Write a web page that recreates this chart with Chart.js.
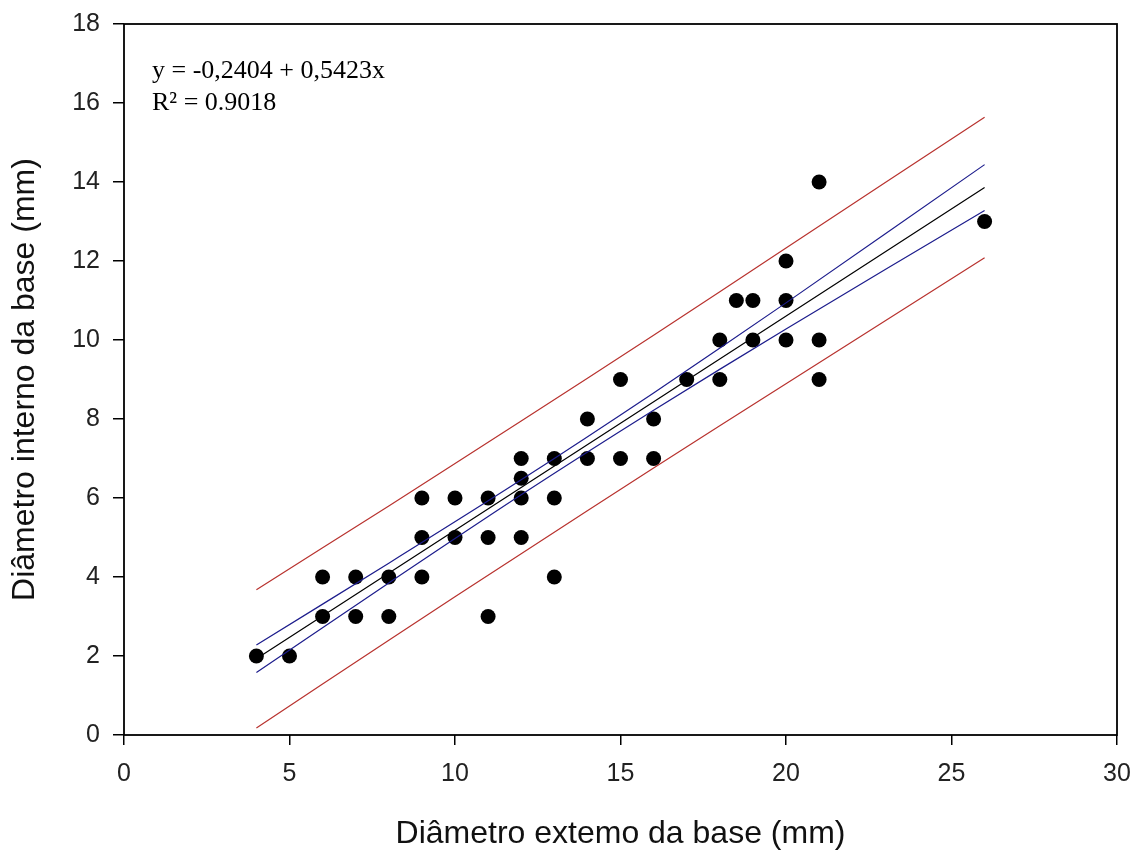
<!DOCTYPE html>
<html>
<head>
<meta charset="utf-8">
<script src="https://cdn.jsdelivr.net/npm/chart.js@4"></script>
<style>
  body { margin: 0; background: #fff; }
</style>
</head>
<body>
<canvas id="chart" width="1131" height="853"></canvas>
<script>
// observed values (diâmetro externo vs interno)
const ptX = [4, 5, 6, 6, 7, 7, 8, 8, 9, 9, 9, 10, 10, 11, 11, 11, 12, 12, 12, 12, 13, 13, 13,
  14, 14, 15, 15, 16, 16, 17, 18, 18, 18.5, 19, 19, 20, 20, 20, 21, 21, 21, 26];
const ptY = [2, 2, 4, 3, 4, 3, 4, 3, 6, 5, 4, 6, 5, 6, 5, 3, 7, 6.5, 6, 5, 7, 6, 4,
  8, 7, 9, 7, 8, 7, 9, 10, 9, 11, 11, 10, 12, 11, 10, 14, 10, 9, 13];

// regression line and bands
const lineX = [4, 26];
const regY = [1.93, 13.86];
const bandX = [4, 8, 12, 16, 20, 26];
const confHi = [2.28, 4.35, 6.46, 8.66, 10.94, 14.44];
const confLo = [1.58, 3.85, 6.08, 8.22, 10.28, 13.28];
const predHi = [3.68, 5.80, 7.95, 10.12, 12.33, 15.64];
const predLo = [0.18, 2.40, 4.59, 6.76, 8.89, 12.08];

const xTicks = [0, 5, 10, 15, 20, 25, 30];
const yTicks = [0, 2, 4, 6, 8, 10, 12, 14, 16, 18];
const eqLines = ["y = -0,2404 + 0,5423x", "R\u00B2 = 0.9018"];

function pairs(xs, ys) {
  return xs.map((x, i) => ({ x: x, y: ys[i] }));
}

function lineSet(xs, ys, color) {
  return {
    data: pairs(xs, ys),
    showLine: true,
    borderColor: color,
    borderWidth: 1.2,
    pointRadius: 0,
    fill: false,
    tension: 0.3
  };
}

const framePlugin = {
  id: "frame",
  afterDraw(chart) {
    const a = chart.chartArea;
    const c = chart.ctx;
    c.save();
    c.strokeStyle = "#000";
    c.lineWidth = 1.8;
    c.strokeRect(a.left, a.top, a.right - a.left, a.bottom - a.top);
    c.fillStyle = "#000";
    c.font = "26px 'Liberation Serif', 'Times New Roman', serif";
    c.textBaseline = "alphabetic";
    c.fillText(eqLines[0], a.left + 28, a.top + 54);
    c.fillText(eqLines[1], a.left + 28, a.top + 86);
    c.restore();
  }
};

const tickFont = { family: "'Liberation Sans', Arial, sans-serif", size: 25 };
const titleFont = { family: "'Liberation Sans', Arial, sans-serif", size: 32 };

new Chart(document.getElementById("chart"), {
  type: "scatter",
  data: {
    datasets: [
      lineSet(bandX, predHi, "#b8322e"),
      lineSet(bandX, predLo, "#b8322e"),
      lineSet(bandX, confHi, "#1c1c8c"),
      lineSet(bandX, confLo, "#1c1c8c"),
      lineSet(lineX, regY, "#000"),
      {
        data: pairs(ptX, ptY),
        pointRadius: 7.5,
        pointBackgroundColor: "#000",
        pointBorderColor: "#000",
        pointBorderWidth: 0
      }
    ]
  },
  options: {
    responsive: false,
    animation: false,
    layout: { padding: { top: 24, right: 14, left: 0, bottom: 0 } },
    plugins: { legend: { display: false }, tooltip: { enabled: false } },
    scales: {
      x: {
        type: "linear",
        min: 0,
        max: 30,
        afterBuildTicks: s => { s.ticks = xTicks.map(v => ({ value: v })); },
        afterFit: s => { s.height = 118; s.paddingLeft = 0; s.paddingRight = 0; },
        border: { display: false },
        grid: { drawOnChartArea: false, drawTicks: true, tickLength: 10, color: "#000", lineWidth: 1.5 },
        ticks: { color: "#222", font: tickFont, padding: 14, maxRotation: 0 },
        title: { display: true, text: "Di\u00E2metro extemo da base (mm)", color: "#111", font: titleFont, padding: { top: 0, bottom: 0 } }
      },
      y: {
        type: "linear",
        min: 0,
        max: 18,
        afterBuildTicks: s => { s.ticks = yTicks.map(v => ({ value: v })); },
        afterFit: s => { s.width = 124; s.paddingTop = 0; s.paddingBottom = 0; },
        border: { display: false },
        grid: { drawOnChartArea: false, drawTicks: true, tickLength: 11, color: "#000", lineWidth: 1.5 },
        ticks: { color: "#222", font: tickFont, padding: 13 },
        title: { display: true, text: "Di\u00E2metro interno da base (mm)", color: "#111", font: titleFont, padding: { top: 6, bottom: 0 } }
      }
    }
  },
  plugins: [framePlugin]
});
</script>
</body>
</html>
